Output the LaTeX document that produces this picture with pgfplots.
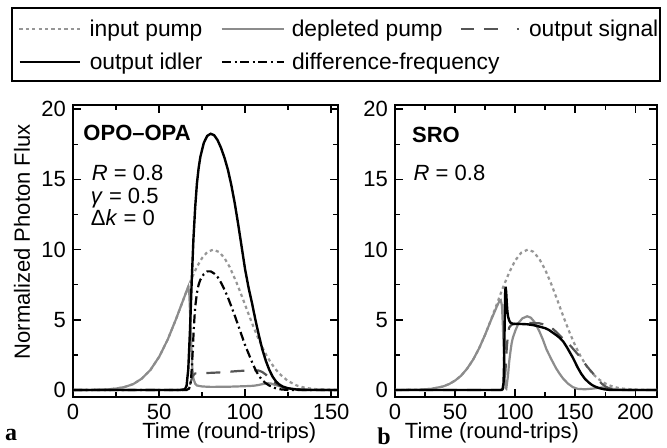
\documentclass[border=0pt]{standalone}
\usepackage{fontspec}
\setmainfont{Liberation Sans}
\newfontfamily\serifbold{Liberation Serif}
\usepackage{pgfplots}
\pgfplotsset{compat=1.18}
\definecolor{pumpgray}{RGB}{150,150,150}
\definecolor{deplgray}{RGB}{140,140,140}
\definecolor{sigdark}{RGB}{85,85,85}
\pgfplotsset{
  myaxis/.style={
    scale only axis, height=146pt, ymin=-0.5, ymax=20.3,
    ytick={0,5,10,15,20}, minor tick num=1,
    tick align=inside, major tick length=4pt, minor tick length=2.5pt,
    axis line style={line width=0.9pt},
    every tick/.append style={line width=0.8pt, black},
    tick label style={font=\fontsize{11}{13}\selectfont},
    label style={font=\fontsize{11}{13}\selectfont},
    /pgf/number format/assume math mode=true,
    xlabel={Time (round-trips)},
  },
  mylegend/.style={
    legend columns=-1, legend cell align=left,
    legend style={draw=none, fill=none, inner sep=0pt, anchor=west,
      font=\fontsize{11.4}{13}\selectfont, nodes={inner sep=0pt},
      column sep=0pt},
  },
  legA/.style={legend image code/.code={\draw[##1] (0pt,0pt) -- (30pt,0pt);}},
  legB/.style={legend image code/.code={\draw[##1] (0pt,0pt) -- (31pt,0pt);}},
  legS/.style={legend image code/.code={\draw[##1, dash pattern=on 6.5pt off 5pt on 7pt off 9.5pt on 1pt off 10pt] (0pt,0pt) -- (29.5pt,0pt);}},
  pump/.style={color=pumpgray, line width=1.1pt, dash pattern=on 1.6pt off 1.6pt},
  depl/.style={color=deplgray, line width=1.1pt},
  sig/.style={color=sigdark, line width=1.1pt, dash pattern=on 7pt off 5pt},
  idl/.style={black, line width=1.2pt},
  dfg/.style={black, line width=1.1pt, dash pattern=on 4.5pt off 1.8pt on 1pt off 1.8pt},
}
\begin{document}
\begin{tikzpicture}
\useasboundingbox (0,0) rectangle (333.5pt,224pt);
\begin{axis}[myaxis, at={(36.5pt,25.5pt)}, anchor=south west, width=132.5pt,
  xmin=0, xmax=154, xtick={0,50,100,150},
  ylabel={Normalized Photon Flux},
  ylabel style={at={(axis description cs:-0.192,0.531)}, anchor=center},
  xlabel style={at={(axis description cs:0.59,-0.123)}, anchor=center},
  mylegend, legend style={at={(-0.20755,1.2594)}},
]
\addplot[pump, legA] coordinates {(0,0) (10,0) (20,0.04) (25,0.1) (30,0.21) (35,0.42) (40,0.81) (45,1.43) (50,2.35) (55,3.58) (60,5.09) (63,6.07) (65,6.72) (67,7.36) (69,7.96) (72,8.77) (75,9.40) (78,9.82) (81.5,10.0) (85,9.82) (88,9.40) (91,8.77) (95,7.66) (97,7.04) (100,6.07) (102.5,5.25) (105,4.46) (107.5,3.72) (110,3.05) (112.5,2.46) (115,1.94) (117.5,1.51) (120,1.15) (125,0.63) (130,0.32) (135,0.15) (140,0.07) (145,0.03) (150,0.01) (154,0)};
\addlegendentry{\makebox[70pt][l]{\hspace{4.5pt}input pump}}
\addplot[depl, legB] coordinates {(0,0) (10,0) (20,0.04) (25,0.1) (30,0.21) (35,0.42) (40,0.81) (45,1.43) (50,2.35) (55,3.58) (60,5.09) (63,6.07) (65,6.72) (66,7.05) (67,7.36) (67.6,6.8) (68.2,5.0) (68.8,3.0) (69.4,1.5) (70,0.8) (71,0.45) (72,0.32) (75,0.25) (80,0.22) (90,0.23) (100,0.27) (105,0.3) (108,0.36) (111,0.44) (113,0.48) (115,0.46) (117,0.38) (120,0.27) (124,0.14) (128,0.07) (135,0.03) (145,0.01) (154,0)};
\addlegendentry{\makebox[87.5pt][l]{\hspace{3.5pt}depleted pump}}
\addplot[sig, legS] coordinates {(0,0) (66,0) (67.5,0.2) (68.5,0.6) (69.5,1.0) (71,1.18) (75,1.2) (80,1.22) (85,1.25) (90,1.29) (95,1.34) (100,1.38) (105,1.41) (108,1.38) (110,1.28) (112,1.1) (114,0.88) (116,0.65) (118,0.45) (120,0.3) (123,0.15) (127,0.06) (132,0.02) (140,0) (154,0)};
\addlegendentry{\hspace{4pt}output signal}
\addplot[idl] coordinates {(0,0) (62,0) (65,0.05) (66,0.3) (67,1.5) (68,4.3) (69,7.8) (70,10.8) (71,13.0) (72,14.7) (73,15.8) (74,16.6) (76,17.6) (78,18.1) (80,18.25) (82,18.15) (84,17.8) (86,17.25) (88,16.55) (90,15.7) (92,14.6) (94,13.3) (96,11.8) (98,10.2) (100,8.6) (102,7.3) (104,6.2) (106,5.0) (108,3.9) (110,2.9) (112,2.1) (114,1.45) (116,0.95) (118,0.6) (120,0.38) (122,0.24) (125,0.12) (130,0.03) (135,0) (154,0)};
\addplot[dfg] coordinates {(0,0) (66,0) (67.5,0.1) (68.5,0.6) (69,1.5) (69.5,2.6) (70,3.9) (70.5,5.0) (71,5.9) (72,6.9) (73,7.5) (74,7.85) (76,8.25) (78,8.45) (80,8.45) (82,8.3) (84,8.05) (86,7.65) (88,7.15) (90,6.6) (92,5.95) (94,5.3) (96,4.6) (98,3.9) (100,3.2) (102,2.6) (104,2.0) (106,1.45) (108,1.0) (110,0.7) (112,0.48) (114,0.32) (116,0.2) (118,0.11) (121,0.04) (125,0) (154,0)};
\node[anchor=base west, inner sep=0pt, font=\fontsize{11}{13}\selectfont\bfseries] at (axis description cs:0.038,0.877) {OPO–OPA};
\node[anchor=base west, inner sep=0pt, font=\fontsize{11}{13}\selectfont] at (axis description cs:0.070,0.743) {\textit{R} = 0.8};
\node[anchor=base west, inner sep=0pt, font=\fontsize{11}{13}\selectfont] at (axis description cs:0.066,0.664) {\textit{γ} = 0.5};
\node[anchor=base west, inner sep=0pt, font=\fontsize{11}{13}\selectfont] at (axis description cs:0.066,0.586) {Δ\textit{k} = 0};
\end{axis}
\begin{axis}[myaxis, at={(197.5pt,25.5pt)}, anchor=south west, width=131pt,
  xmin=0, xmax=218, xtick={0,50,100,150,200},
  xlabel style={at={(axis description cs:0.37,-0.123)}, anchor=center},
  mylegend, legend style={at={(-1.43893,1.1464)}},
]
\addlegendimage{idl, legA}
\addlegendentry{\makebox[70pt][l]{\hspace{4.5pt}output idler}}
\addlegendimage{dfg, legB}
\addlegendentry{\makebox[100pt][l]{\hspace{3.5pt}difference-frequency}}
\addplot[pump] coordinates {(0,0) (20,0.02) (30,0.08) (40,0.25) (45,0.42) (50,0.67) (55,1.02) (60,1.52) (65,2.16) (70,2.97) (75,3.94) (80,5.03) (85,6.18) (88,6.88) (90,7.33) (95,8.37) (100,9.22) (105,9.78) (110.5,10.0) (115,9.85) (120,9.35) (125,8.56) (130,7.55) (135,6.42) (140,5.25) (145,4.15) (150,3.15) (155,2.31) (160,1.63) (165,1.11) (170,0.73) (175,0.46) (180,0.28) (185,0.16) (190,0.09) (200,0.03) (210,0.01) (218,0)};
\addplot[depl] coordinates {(0,0) (20,0.02) (30,0.08) (40,0.25) (45,0.42) (50,0.67) (55,1.02) (60,1.52) (65,2.16) (70,2.97) (75,3.94) (80,5.0) (83,5.6) (85,6.0) (87,6.35) (88,6.4) (89,6.0) (89.8,4.5) (90.4,3.0) (91,1.5) (91.5,0.6) (92,0.15) (92.6,0.1) (93.2,0.5) (94,1.0) (95,2.0) (96,2.7) (97,3.3) (98,3.7) (100,4.2) (103,4.8) (106,5.1) (110,5.25) (113,5.15) (116,4.85) (120,4.2) (123,3.6) (126,2.9) (130,2.2) (134,1.55) (137,1.15) (140,0.8) (144,0.45) (148,0.2) (152,0.08) (158,0.05) (165,0.1) (172,0.18) (178,0.12) (185,0.04) (195,0) (218,0)};
\addplot[sig] coordinates {(0,0) (89,0) (91,0.3) (92,1.5) (93,3.0) (94,4.0) (95,4.45) (97,4.65) (100,4.72) (110,4.78) (120,4.75) (126,4.62) (130,4.45) (134,4.15) (138,3.8) (142,3.45) (146,3.15) (149,2.85) (153,2.45) (157,2.0) (160,1.65) (163,1.35) (166,1.05) (169,0.75) (172,0.45) (175,0.25) (178,0.12) (182,0.04) (186,0) (218,0)};
\addplot[idl] coordinates {(0,0) (88,0) (89.5,0.05) (90.3,0.5) (90.8,2.0) (91.2,4.5) (91.6,6.8) (92,7.35) (92.5,7.0) (93,6.2) (93.5,5.6) (94,5.25) (95,4.95) (96,4.8) (98,4.72) (100,4.7) (105,4.7) (110,4.68) (115,4.62) (120,4.52) (125,4.4) (128,4.28) (131,4.1) (134,3.92) (137,3.72) (140,3.45) (143,3.05) (146,2.6) (148,2.3) (150,1.95) (152,1.6) (155,1.15) (158,0.8) (161,0.55) (164,0.35) (167,0.22) (170,0.13) (174,0.05) (178,0.01) (182,0) (218,0)};
\node[anchor=base west, inner sep=0pt, font=\fontsize{11}{13}\selectfont\bfseries] at (axis description cs:0.064,0.870) {SRO};
\node[anchor=base west, inner sep=0pt, font=\fontsize{11}{13}\selectfont] at (axis description cs:0.070,0.743) {\textit{R} = 0.8};
\end{axis}
\draw[line width=0.8pt] (6pt,183.5pt) rectangle (330pt,220pt);
\node[font=\serifbold\bfseries\fontsize{12}{14}\selectfont] at (5.5pt,6.5pt) {a};
\node[font=\serifbold\bfseries\fontsize{12}{14}\selectfont] at (192pt,6pt) {b};
\end{tikzpicture}
\end{document}
